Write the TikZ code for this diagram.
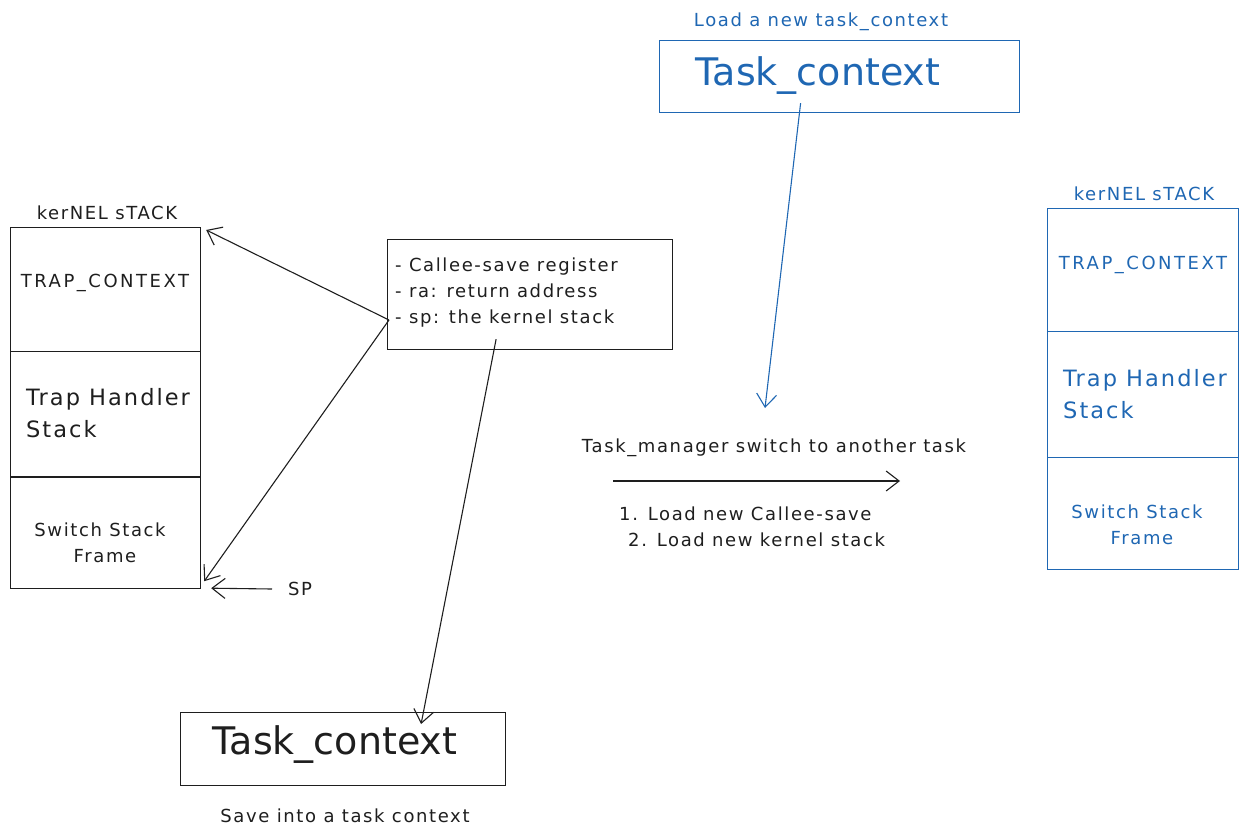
\documentclass[tikz,border=0pt]{standalone}
\usepackage{fontspec}
\setmainfont{DejaVu Sans}
\newfontfamily\handfont{DejaVu Sans}[LetterSpace=9]
\newfontfamily\handwide{DejaVu Sans}[LetterSpace=14]
\usetikzlibrary{arrows.meta}
\definecolor{ink}{HTML}{1E1E1E}
\definecolor{blu}{HTML}{1F67B3}
\begin{document}
\begin{tikzpicture}[x=1pt,y=-1pt,
  box/.style={draw=#1, line width=1.2pt, inner sep=0pt, anchor=north west},
  box/.default=ink,
  arr/.style={draw=#1, line width=1.1pt, -{Straight Barb[length=13pt,width=20pt,line width=1.1pt]}},
  arr/.default=ink,
  txt/.style={text=#1, inner sep=0pt, font=\handfont\fontsize{18}{26}\selectfont},
  txt/.default=ink,
  caps/.style={text=#1, inner sep=0pt, font=\handwide\fontsize{18}{26}\selectfont},
  caps/.default=ink,
  mid/.style={text=#1, inner sep=0pt, font=\handfont\fontsize{22.5}{32}\selectfont},
  mid/.default=ink,
  big/.style={text=#1, inner sep=0pt, font=\fontsize{38}{44}\selectfont},
  big/.default=ink
]
\useasboundingbox (0,0) rectangle (1250,838);

% ---------- left kernel stack ----------
\node[txt] (lkl) at (107,213) {kerNEL sTACK};
\node[box, minimum width=190pt, minimum height=124pt] (ltrap) at (10,227) {};
\node[box, minimum width=190pt, minimum height=125pt] (lhand) at (10,351) {};
\node[box, minimum width=190pt, minimum height=111pt] (lsw) at (10,477) {};
\node[caps] (ltrapt) at (105,283) {TRAP\_CONTEXT};
\node[mid, anchor=west, align=left] (lhandt) at (26,413) {Trap Handler\\Stack};
\node[txt, align=center] (lswt) at (100,543) {Switch Stack\\\hspace*{10pt}Frame};

% ---------- info box ----------
\node[box, minimum width=285pt, minimum height=110pt] (info) at (387,239) {};
\node[txt, anchor=west, align=left] (infot) at (395,293) {- Callee-save register\\- ra: return address\\- sp: the kernel stack};
\coordinate (src) at (389,320);

\draw[arr] (src) -- ([xshift=5pt,yshift=-3pt]ltrap.north east);
\draw[arr] (src) -- ([xshift=3pt,yshift=8pt]lsw.south east);

% SP pointer
\node[txt, anchor=west] (sp) at (288,589) {SP};
\draw[arr] ([xshift=-16pt]sp.west) -- ([xshift=10pt,yshift=1pt]lsw.south east);

% ---------- bottom task context ----------
\node[box, minimum width=325pt, minimum height=73pt] (save) at (180,712) {};
\node[big] (savet) at (335,745) {Task\_context};
\node[txt] (savel) at (345,816) {Save into a task context};
\draw[arr] ([xshift=-34pt,yshift=11pt]info.south) -- ([xshift=78pt,yshift=-12pt]save.north);

% ---------- top task context (blue) ----------
\node[txt=blu] (loadl) at (821,22) {Load a new task\_context};
\node[box=blu, minimum width=360pt, minimum height=72pt] (load) at (659,40) {};
\node[big=blu] (loadt) at (818,76) {Task\_context};
\coordinate (bend) at (765,408);
\draw[arr=blu] ([xshift=-39pt,yshift=10pt]load.south) -- (bend);

% ---------- switch arrow ----------
\node[txt] (swl) at (774,448) {Task\_manager switch to another task};
\coordinate (sa) at (613,481);
\coordinate (sb) at (900,481);
\draw[arr] (sa) -- (sb);
\node[txt, anchor=west, align=left] (steps) at (619,527) {1. Load new Callee-save\\\hspace*{9pt}2. Load new kernel stack};

% ---------- right kernel stack (blue) ----------
\node[txt=blu] (rkl) at (1144,194) {kerNEL sTACK};
\node[box=blu, minimum width=191pt, minimum height=123pt] (rtrap) at (1047,208) {};
\node[box=blu, minimum width=191pt, minimum height=126pt] (rhand) at (1047,331) {};
\node[box=blu, minimum width=191pt, minimum height=112pt] (rsw) at (1047,457) {};
\node[caps=blu] (rtrapt) at (1143,265) {TRAP\_CONTEXT};
\node[mid=blu, anchor=west, align=left] (rhandt) at (1063,394) {Trap Handler\\Stack};
\node[txt=blu, align=center] (rswt) at (1137,525) {Switch Stack\\\hspace*{10pt}Frame};
\end{tikzpicture}
\end{document}
